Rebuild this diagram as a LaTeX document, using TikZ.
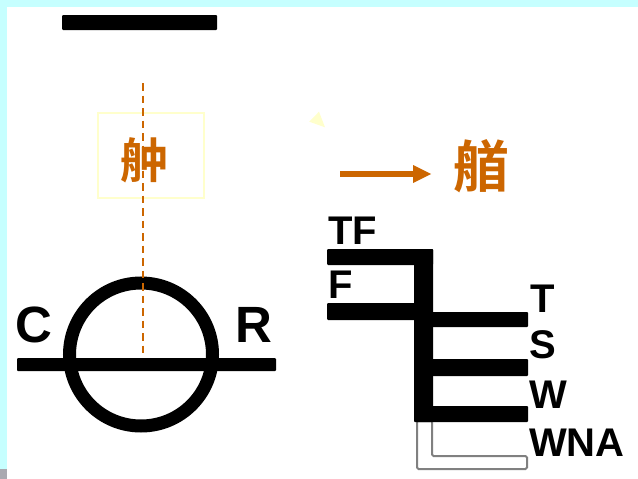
\documentclass[tikz,border=0pt]{standalone}
\usepackage{fontspec}
\setmainfont{Liberation Sans}
\newfontfamily\cjk{Noto Sans CJK SC}[BoldFont={* Bold}]
\definecolor{frame}{HTML}{C6FFFF}
\definecolor{ochre}{HTML}{CC6600}
\definecolor{pale}{HTML}{FFFFCC}
\definecolor{corner}{HTML}{A9A9B0}
\tikzset{
  bar/.style={fill=black,draw=none,rounded corners=1pt},
  lab/.style={font=\bfseries\fontsize{40}{40}\selectfont,text=black,inner sep=0pt,anchor=base west},
  biglab/.style={lab,font=\bfseries\fontsize{51}{51}\selectfont},
  han/.style={font=\cjk\bfseries\fontsize{56}{56}\selectfont,text=ochre,inner sep=0pt},
  ghost/.style={draw=black!50,line width=2pt,rounded corners=1.5pt}
}
\begin{document}
\begin{tikzpicture}[x=1pt,y=-1pt]
\useasboundingbox (0,0) rectangle (638,479);
\fill[frame] (0,0) rectangle (638,479);
\fill[white] (7,7) rectangle (638,479);
\fill[corner] (0,469) rectangle (7,479);
% top bar
\fill[bar] (62,15) rectangle (217,30);
% pale box and triangle
\node[draw=pale,line width=1.3pt,minimum width=106pt,minimum height=85pt,inner sep=0pt] (box) at (151,155.5) {};
\node[han,font=\cjk\bfseries\fontsize{48}{48}\selectfont] (zhong) at (144,160) {舯};
\fill[pale] (309.3,121.7) -- (319,111.7) -- (325,127.3) -- cycle;
% circle & line
\node[circle,draw=black,line width=13pt,minimum size=143pt,inner sep=0pt] (ring) at (141,354.5) {};
\fill[bar] (17,358) rectangle (276,371);
\coordinate (axisT) at (143,83);
\coordinate (axisB) at (143,355);
\draw[ochre,line width=1.6pt,dash pattern=on 7.5pt off 5pt] (axisT) -- (axisB);
\node[biglab] (C) at (15,342.5) {C};
\node[biglab] (R) at (235,342.5) {R};
% arrow
\node[han] (shou) at (481,166) {艏};
\coordinate (arrS) at (340,174);
\coordinate (arrE) at (431,174);
\fill[ochre] (arrS)+(0,-2.8) -- (413,171.2) -- (413,165) -- (arrE) -- (413,183) -- (413,176.8) -- (340,176.8) -- cycle;
% ghost
\draw[ghost] (417,420) -- (417,469) -- (527,469) -- (527,456) -- (432,456) -- (432,420);
% ladder
\fill[bar] (327,249) rectangle (433,265);
\fill[bar] (327,303) rectangle (416,320);
\fill[bar] (414,249) rectangle (433,422);
\fill[bar] (416,312) rectangle (528,327);
\fill[bar] (416,359) rectangle (528,376);
\fill[bar] (416,406) rectangle (528,422);
\node[lab] (TF) at (328,244) {TF};
\node[lab] (F) at (328,298) {F};
\node[lab] (T) at (530,312) {T};
\node[lab] (S) at (529,358.5) {S};
\node[lab] (W) at (529,408) {W};
\node[lab] (WNA) at (529,456) {WNA};
\end{tikzpicture}
\end{document}
